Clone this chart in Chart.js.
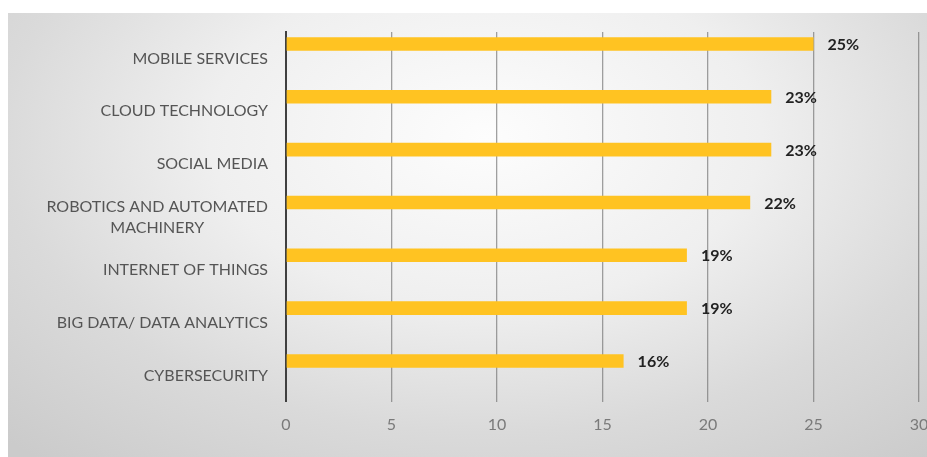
<!DOCTYPE html>
<html>
<head>
<meta charset="utf-8">
<script src="https://cdn.jsdelivr.net/npm/chart.js@4.4.1/dist/chart.umd.min.js"></script>
<style>
    html, body { margin: 0; padding: 0; background: #ffffff; overflow: hidden; }
    #bg {
        position: absolute; left: 8px; top: 13px; width: 919px; height: 444px;
        background: radial-gradient(ellipse 75% 95% at 52% 28%, #fdfdfd 0%, #efefef 40%, #dadada 70%, #cbcbcb 100%);
    }
    #wrap { position: absolute; left: 0; top: 0; width: 927px; height: 457px; }
</style>
</head>
<body>
<div id="bg"></div>
<div id="wrap"><canvas id="barChart"></canvas></div>
<script>
const categories = [
    'MOBILE SERVICES',
    'CLOUD TECHNOLOGY',
    'SOCIAL MEDIA',
    ['ROBOTICS AND AUTOMATED', 'MACHINERY'],
    'INTERNET OF THINGS',
    'BIG DATA/ DATA ANALYTICS',
    'CYBERSECURITY'
];
const shareValues = [25, 23, 23, 22, 19, 19, 16];
// excel chart has an empty second series, which pushes the bars up in each row
const emptySeries = [null, null, null, null, null, null, null];
const xMin = 0;
const xMax = 30;
const xStep = 5;

const labelFont = '16px Lato';
const valueFont = 'bold 16px Lato';

// value labels at the end of each bar
const valueLabels = {
    id: 'valueLabels',
    afterDatasetsDraw(chart) {
        const ctx = chart.ctx;
        const meta = chart.getDatasetMeta(0);
        ctx.save();
        ctx.font = valueFont;
        ctx.fillStyle = '#222222';
        ctx.textAlign = 'left';
        ctx.textBaseline = 'middle';
        meta.data.forEach((bar, i) => {
            ctx.fillText(shareValues[i] + '%', bar.x + 14, bar.y + 1);
        });
        ctx.restore();
    }
};

// category labels: block right aligned, lines centered inside it
const categoryLabels = {
    id: 'categoryLabels',
    afterDraw(chart) {
        const ctx = chart.ctx;
        const yScale = chart.scales.y;
        const right = chart.chartArea.left - 18;
        ctx.save();
        ctx.font = labelFont;
        ctx.fillStyle = '#555555';
        ctx.textAlign = 'center';
        ctx.textBaseline = 'middle';
        categories.forEach((label, i) => {
            const lines = Array.isArray(label) ? label : [label];
            const width = Math.max(...lines.map(l => ctx.measureText(l).width));
            const cx = right - width / 2;
            const cy = yScale.getPixelForTick(i);
            lines.forEach((line, j) => {
                ctx.fillText(line, cx, cy + (j - (lines.length - 1) / 2) * 21);
            });
        });
        ctx.restore();
    }
};

new Chart(document.getElementById('barChart'), {
    type: 'bar',
    data: {
        labels: categories,
        datasets: [
            {
                label: 'Share',
                data: shareValues,
                backgroundColor: '#FFC322',
                borderWidth: 0,
                categoryPercentage: 1.094,
                barPercentage: 0.47
            },
            {
                label: 'Empty',
                data: emptySeries,
                backgroundColor: 'rgba(0,0,0,0)',
                categoryPercentage: 1.094,
                barPercentage: 0.47
            }
        ]
    },
    plugins: [valueLabels, categoryLabels],
    options: {
        indexAxis: 'y',
        responsive: true,
        maintainAspectRatio: false,
        animation: false,
        layout: {
            padding: { top: 32, left: 8, right: 8, bottom: 10 }
        },
        scales: {
            x: {
                min: xMin,
                max: xMax,
                border: { display: false },
                grid: {
                    drawTicks: false,
                    lineWidth: 1.3,
                    color: (c) => c.index === 0 ? 'rgba(0,0,0,0)' : 'rgba(110, 110, 110, 0.65)'
                },
                ticks: {
                    stepSize: xStep,
                    padding: 13,
                    color: '#7a7a7a',
                    maxRotation: 0,
                    font: { family: 'Lato', size: 16 }
                },
                afterFit(scale) {
                    // let the last tick label run off the edge like in the original
                    scale.paddingRight = 0;
                    scale.paddingLeft = 0;
                }
            },
            y: {
                grid: { display: false, drawTicks: false },
                border: { display: true, color: '#404040', width: 2 },
                ticks: {
                    color: 'rgba(0,0,0,0)',
                    font: { family: 'Lato', size: 14 }
                },
                afterFit(scale) {
                    scale.width = 278;
                }
            }
        },
        plugins: {
            legend: { display: false },
            tooltip: { enabled: false }
        }
    }
});
</script>
</body>
</html>
